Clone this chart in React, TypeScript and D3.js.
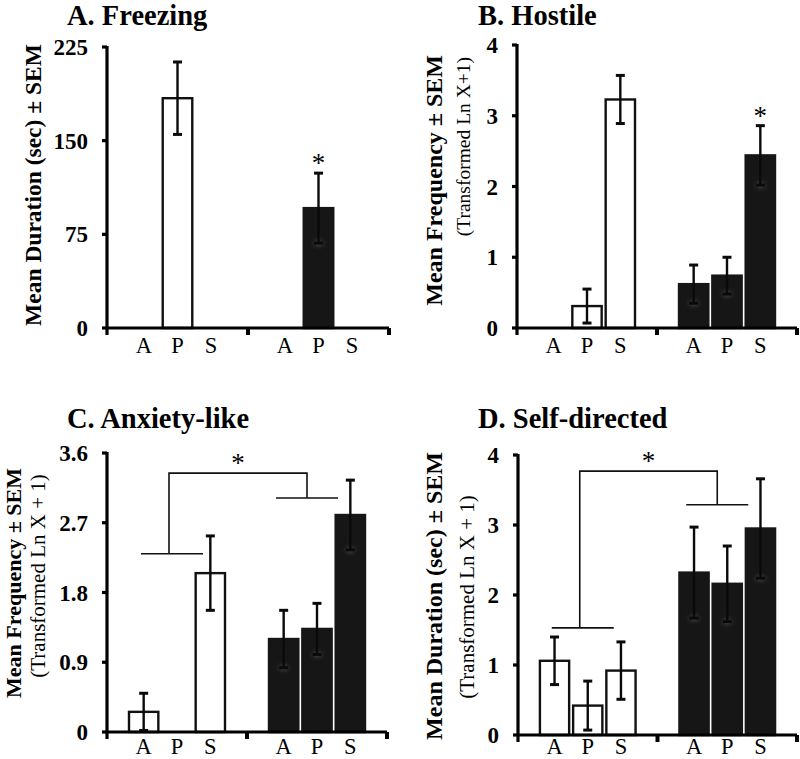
import React from "react";
import * as d3 from "d3";

// ---------- data ----------
const groups = ["open", "filled"];
const conditions = ["A", "P", "S"];

// A. Freezing
const freezingOpen = [0, 184, 0];
const freezingOpenSem = [0, 29, 0];
const freezingFilled = [0, 96, 0];
const freezingFilledSem = [0, 28, 0];
const freezingTicks = [0, 75, 150, 225];
const freezingTickLabels = ["0", "75", "150", "225"];

// B. Hostile
const hostileOpen = [0, 0.31, 3.23];
const hostileOpenSem = [0, 0.24, 0.34];
const hostileFilled = [0.62, 0.74, 2.44];
const hostileFilledSem = [0.27, 0.26, 0.42];
const hostileTicks = [0, 1, 2, 3, 4];
const hostileTickLabels = ["0", "1", "2", "3", "4"];

// C. Anxiety-like
const anxietyOpen = [0.26, 0, 2.05];
const anxietyOpenSem = [0.24, 0, 0.48];
const anxietyFilled = [1.2, 1.33, 2.8];
const anxietyFilledSem = [0.37, 0.33, 0.45];
const anxietyTicks = [0, 0.9, 1.8, 2.7, 3.6];
const anxietyTickLabels = ["0", "0.9", "1.8", "2.7", "3.6"];
const anxietyBracket = [2.3, 3.34, 3.02]; // left group, top, right group

// D. Self-directed
const selfOpen = [1.06, 0.42, 0.92];
const selfOpenSem = [0.34, 0.35, 0.41];
const selfFilled = [2.32, 2.16, 2.95];
const selfFilledSem = [0.65, 0.54, 0.71];
const selfTicks = [0, 1, 2, 3, 4];
const selfTickLabels = ["0", "1", "2", "3", "4"];
const selfBracket = [1.53, 3.77, 3.29];

const SERIF = "'Liberation Serif', 'Times New Roman', 'DejaVu Serif', serif";

type PanelProps = {
  title: string;
  titleX: number;
  titleY: number;
  axisX: number;
  y0: number;
  yTop: number;
  width: number;
  domainMax: number;
  ticks: number[];
  tickLabels: string[];
  open: number[];
  openSem: number[];
  filled: number[];
  filledSem: number[];
  stars: { group: string; cond: string }[];
  bracket: number[] | null;
  boldLabel: string;
  boldSize: number;
  boldX: number;
  boldY: number;
  boldAnchor: string;
  subLabel?: string;
  subSize?: number;
  subX?: number;
  subY?: number;
  subAnchor?: string;
  catDy: number;
};

function Panel(p: PanelProps) {
  const y = d3.scaleLinear().domain([0, p.domainMax]).range([p.y0, p.yTop]);
  const xg = d3.scaleBand<string>().domain(groups).range([p.axisX, p.axisX + p.width]);
  const xc = d3
    .scaleBand<string>()
    .domain(conditions)
    .range([0, xg.bandwidth()])
    .paddingInner(0.06)
    .paddingOuter(0.63);
  const bw = xc.bandwidth();
  const series = [
    { g: groups[0], vals: p.open, sem: p.openSem, filled: false },
    { g: groups[1], vals: p.filled, sem: p.filledSem, filled: true },
  ];
  const cx = (g: string, c: string) => (xg(g) as number) + (xc(c) as number) + bw / 2;
  const gc = (g: string) => (xg(g) as number) + xg.bandwidth() / 2;

  const xEnd = p.axisX + p.width;
  const mid = xg(groups[1]) as number;

  return (
    <g>
      <text x={p.titleX} y={p.titleY} fontFamily={SERIF} fontWeight="bold" fontSize={28.5}>
        {p.title}
      </text>
      {/* y label */}
      <text
        transform={`translate(${p.boldX},${p.boldY}) rotate(-90)`}
        textAnchor={p.boldAnchor}
        fontFamily={SERIF}
        fontWeight="bold"
        fontSize={p.boldSize}
      >
        {p.boldLabel}
      </text>
      {p.subLabel && (
        <text
          transform={`translate(${p.subX},${p.subY}) rotate(-90)`}
          textAnchor={p.subAnchor}
          fontFamily={SERIF}
          fontSize={p.subSize}
        >
          {p.subLabel}
        </text>
      )}
      {/* bars */}
      {series.map((s) =>
        conditions.map((c, i) => {
          const v = s.vals[i];
          if (v <= 0) return null;
          const x0 = (xg(s.g) as number) + (xc(c) as number);
          return (
            <rect
              key={s.g + c}
              x={x0 + 1}
              y={y(v)}
              width={bw - 2}
              height={p.y0 - y(v)}
              fill={s.filled ? "#161616" : "#fff"}
              stroke={s.filled ? "#161616" : "#111"}
              strokeWidth={2.4}
            />
          );
        })
      )}
      {/* glows */}
      {series.map((s) =>
        conditions.map((c, i) => {
          const v = s.vals[i];
          if (v <= 0 || !s.filled || s.sem[i] <= 0) return null;
          return (
            <ellipse
              key={"gl" + s.g + c}
              cx={cx(s.g, c)}
              cy={y(v - s.sem[i])}
              rx={10}
              ry={8}
              fill="url(#glow)"
            />
          );
        })
      )}
      {/* error bars */}
      {series.map((s) =>
        conditions.map((c, i) => {
          const v = s.vals[i];
          const e = s.sem[i];
          if (v <= 0 || e <= 0) return null;
          const x = cx(s.g, c);
          const yt = y(v + e);
          const yb = y(Math.max(0, v - e));
          return (
            <g key={"e" + s.g + c} stroke="#0a0a0a" strokeWidth={2.4}>
              <line x1={x} x2={x} y1={yt} y2={yb} />
              <line x1={x - 4.5} x2={x + 4.5} y1={yt} y2={yt} strokeWidth={3} />
              <line x1={x - 4.5} x2={x + 4.5} y1={yb} y2={yb} strokeWidth={3} />
            </g>
          );
        })
      )}
      {/* stars */}
      {p.stars.map((st, k) => {
        const i = conditions.indexOf(st.cond);
        const s = series.find((q) => q.g === st.group)!;
        return (
          <text
            key={"s" + k}
            x={cx(st.group, st.cond)}
            y={y(s.vals[i] + s.sem[i]) - 1}
            textAnchor="middle"
            fontFamily={SERIF}
            fontSize={27}
          >
            *
          </text>
        );
      })}
      {/* bracket */}
      {p.bracket &&
        (() => {
          const [lv, tv, rv] = p.bracket!;
          const l = gc(groups[0]);
          const r = gc(groups[1]);
          const lx = l - 8;
          const rx = r - 10;
          return (
            <g stroke="#111" strokeWidth={1.6} fill="none">
              <line x1={l - 36} x2={l + 26} y1={y(lv)} y2={y(lv)} />
              <polyline points={`${lx},${y(lv)} ${lx},${y(tv)} ${rx},${y(tv)} ${rx},${y(rv)}`} />
              <line x1={r - 41} x2={r + 21} y1={y(rv)} y2={y(rv)} />
              <text
                x={(lx + rx) / 2}
                y={y(tv) - 1}
                textAnchor="middle"
                fontFamily={SERIF}
                fontSize={27}
                stroke="none"
                fill="#000"
              >
                *
              </text>
            </g>
          );
        })()}
      {/* axes */}
      <g stroke="#000" strokeWidth={3.2} fill="none">
        <line x1={p.axisX} x2={p.axisX} y1={p.yTop - 1} y2={p.y0 + 7} />
        <line x1={p.axisX} x2={xEnd} y1={p.y0} y2={p.y0} />
        {p.ticks.map((t) => (
          <line key={"yt" + t} x1={p.axisX - 5} x2={p.axisX} y1={y(t)} y2={y(t)} />
        ))}
        <line x1={mid} x2={mid} y1={p.y0} y2={p.y0 + 7} strokeWidth={4} />
        <line x1={xEnd} x2={xEnd} y1={p.y0} y2={p.y0 + 7} strokeWidth={4} />
      </g>
      {p.ticks.map((t, i) => (
        <text
          key={"tl" + t}
          x={p.axisX - 19}
          y={y(t)}
          dy="0.35em"
          textAnchor="end"
          fontFamily={SERIF}
          fontWeight="bold"
          fontSize={23}
        >
          {p.tickLabels[i]}
        </text>
      ))}
      {groups.map((g) =>
        conditions.map((c) => (
          <text
            key={"cl" + g + c}
            x={cx(g, c)}
            y={p.y0 + p.catDy}
            textAnchor="middle"
            fontFamily={SERIF}
            fontSize={22.5}
          >
            {c}
          </text>
        ))
      )}
    </g>
  );
}

export default function App() {
  return (
    <svg
      width={800}
      height={759}
      style={{ position: "absolute", left: 0, top: 0, background: "#fff" }}
    >
      <defs>
        <radialGradient id="glow">
          <stop offset="0%" stopColor="#8a8a8a" stopOpacity={0.45} />
          <stop offset="55%" stopColor="#444" stopOpacity={0.2} />
          <stop offset="100%" stopColor="#161616" stopOpacity={0} />
        </radialGradient>
      </defs>
      <rect width={800} height={759} fill="#fff" />
      <Panel
        title="A. Freezing"
        titleX={67}
        titleY={25}
        axisX={107}
        y0={328}
        yTop={47}
        width={282}
        domainMax={225}
        ticks={freezingTicks}
        tickLabels={freezingTickLabels}
        open={freezingOpen}
        openSem={freezingOpenSem}
        filled={freezingFilled}
        filledSem={freezingFilledSem}
        stars={[{ group: "filled", cond: "P" }]}
        bracket={null}
        boldLabel="Mean Duration (sec) ± SEM"
        boldSize={23.5}
        boldX={41}
        boldY={185}
        boldAnchor="middle"
        catDy={25}
      />
      <Panel
        title="B. Hostile"
        titleX={478}
        titleY={25}
        axisX={517}
        y0={328}
        yTop={45}
        width={280}
        domainMax={4}
        ticks={hostileTicks}
        tickLabels={hostileTickLabels}
        open={hostileOpen}
        openSem={hostileOpenSem}
        filled={hostileFilled}
        filledSem={hostileFilledSem}
        stars={[{ group: "filled", cond: "S" }]}
        bracket={null}
        boldLabel="Mean Frequency ± SEM"
        boldSize={24}
        boldX={442}
        boldY={55}
        boldAnchor="end"
        subLabel="(Transformed Ln X+1)"
        subSize={19.5}
        subX={470}
        subY={57}
        subAnchor="end"
        catDy={25}
      />
      <Panel
        title="C. Anxiety-like"
        titleX={67}
        titleY={428}
        axisX={107}
        y0={732}
        yTop={453}
        width={280}
        domainMax={3.6}
        ticks={anxietyTicks}
        tickLabels={anxietyTickLabels}
        open={anxietyOpen}
        openSem={anxietyOpenSem}
        filled={anxietyFilled}
        filledSem={anxietyFilledSem}
        stars={[]}
        bracket={anxietyBracket}
        boldLabel="Mean Frequency ± SEM"
        boldSize={22}
        boldX={21}
        boldY={583}
        boldAnchor="middle"
        subLabel="(Transformed Ln X + 1)"
        subSize={21}
        subX={45}
        subY={576}
        subAnchor="middle"
        catDy={22}
      />
      <Panel
        title="D. Self-directed"
        titleX={478}
        titleY={428}
        axisX={518}
        y0={735}
        yTop={455}
        width={279}
        domainMax={4}
        ticks={selfTicks}
        tickLabels={selfTickLabels}
        open={selfOpen}
        openSem={selfOpenSem}
        filled={selfFilled}
        filledSem={selfFilledSem}
        stars={[]}
        bracket={selfBracket}
        boldLabel="Mean Duration (sec) ± SEM"
        boldSize={24}
        boldX={442}
        boldY={596}
        boldAnchor="middle"
        subLabel="(Transformed Ln X + 1)"
        subSize={21}
        subX={474}
        subY={597}
        subAnchor="middle"
        catDy={19}
      />
    </svg>
  );
}
